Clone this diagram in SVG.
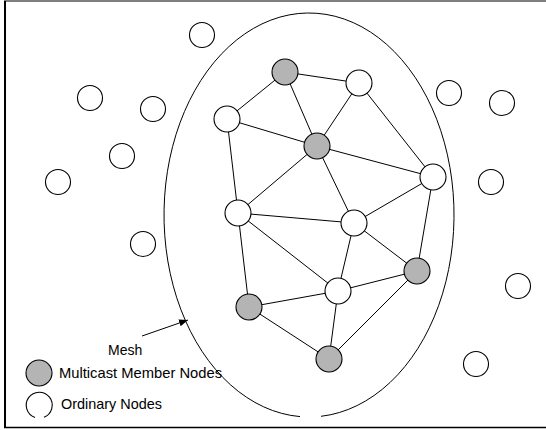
<svg xmlns="http://www.w3.org/2000/svg" width="546" height="430" viewBox="0 0 546 430">
<style>
.frame{stroke:#000;fill:none}
.mesh{fill:none;stroke:#000;stroke-width:1}
.e line{stroke:#000;stroke-width:1}
.w{fill:#fff;stroke:#000;stroke-width:1.1}
.g{fill:#b4b4b4;stroke:#000;stroke-width:1.1}
text{font-family:"Liberation Sans",Arial,sans-serif;font-size:14.5px;fill:#000}
</style>
<defs>
<marker id="ah" viewBox="0 0 10 10" refX="10" refY="5" markerWidth="9" markerHeight="9" markerUnits="userSpaceOnUse" orient="auto"><path d="M0,1 L10,5 L0,9 z" fill="#000"/></marker>
</defs>
<rect width="546" height="430" fill="#fff"/>
<g id="frame" class="frame">
<line x1="4" y1="1" x2="546" y2="1" stroke-width="1.2"/>
<line x1="5" y1="1" x2="5" y2="428" stroke-width="2"/>
<line x1="4" y1="427.5" x2="546" y2="427.5" stroke-width="1.5"/>
</g>
<g id="mesh-boundary"><path class="mesh" d="M321,416.3 A145,202 0 1 0 300,416.6"/></g>
<g id="connectors" class="e">
<line x1="285" y1="72" x2="359" y2="83"/>
<line x1="285" y1="72" x2="227" y2="119"/>
<line x1="285" y1="72" x2="317" y2="146"/>
<line x1="359" y1="83" x2="317" y2="146"/>
<line x1="359" y1="83" x2="433" y2="177"/>
<line x1="227" y1="119" x2="317" y2="146"/>
<line x1="227" y1="119" x2="238" y2="213"/>
<line x1="317" y1="146" x2="433" y2="177"/>
<line x1="317" y1="146" x2="238" y2="213"/>
<line x1="317" y1="146" x2="354" y2="223" stroke-width="0.6"/>
<line x1="238" y1="213" x2="354" y2="223"/>
<line x1="354" y1="223" x2="433" y2="177"/>
<line x1="433" y1="177" x2="417" y2="271"/>
<line x1="238" y1="213" x2="338" y2="291"/>
<line x1="238" y1="213" x2="249" y2="307"/>
<line x1="354" y1="223" x2="417" y2="271"/>
<line x1="354" y1="223" x2="338" y2="291"/>
<line x1="249" y1="307" x2="338" y2="291"/>
<line x1="249" y1="307" x2="329" y2="359"/>
<line x1="338" y1="291" x2="417" y2="271"/>
<line x1="338" y1="291" x2="329" y2="359"/>
<line x1="417" y1="271" x2="329" y2="359"/>
<line x1="142" y1="336" x2="188" y2="320" marker-end="url(#ah)"/>
</g>
<g id="m1"><circle class="g" cx="285" cy="72" r="13"/></g>
<g id="n2"><circle class="w" cx="359" cy="83" r="13"/></g>
<g id="n3"><circle class="w" cx="227" cy="119" r="13"/></g>
<g id="m4"><circle class="g" cx="317" cy="146" r="13"/></g>
<g id="n5"><circle class="w" cx="433" cy="177" r="13"/></g>
<g id="n6"><circle class="w" cx="238" cy="213" r="13"/></g>
<g id="n7"><circle class="w" cx="354" cy="223" r="13"/></g>
<g id="m8"><circle class="g" cx="249" cy="307" r="13"/></g>
<g id="m9"><circle class="g" cx="417" cy="271" r="13"/></g>
<g id="n10"><circle class="w" cx="338" cy="291" r="13"/></g>
<g id="m11"><circle class="g" cx="329" cy="359" r="13"/></g>
<g id="o1"><circle class="w" cx="202" cy="35" r="12.5"/></g>
<g id="o2"><circle class="w" cx="90" cy="98" r="12.5"/></g>
<g id="o3"><circle class="w" cx="153" cy="109" r="12.5"/></g>
<g id="o4"><circle class="w" cx="122" cy="156" r="12.5"/></g>
<g id="o5"><circle class="w" cx="58" cy="182" r="12.5"/></g>
<g id="o6"><circle class="w" cx="143" cy="244" r="12.5"/></g>
<g id="o7"><circle class="w" cx="449" cy="93" r="12.5"/></g>
<g id="o8"><circle class="w" cx="502" cy="103" r="12.5"/></g>
<g id="o9"><circle class="w" cx="491" cy="182" r="12.5"/></g>
<g id="o10"><circle class="w" cx="518" cy="286" r="12.5"/></g>
<g id="o11"><circle class="w" cx="476" cy="364" r="12.5"/></g>
<g id="label-mesh"><text x="108" y="355" style="font-size:14px">Mesh</text></g>
<g id="legend">
<circle class="g" cx="39" cy="373" r="13"/>
<text x="59" y="378" textLength="163" lengthAdjust="spacingAndGlyphs">Multicast Member Nodes</text>
<path d="M35,417.5 A13,13 0 1 1 44,417.3" fill="none" stroke="#000" stroke-width="1.1"/>
<text x="61" y="409" textLength="101" lengthAdjust="spacingAndGlyphs">Ordinary Nodes</text>
</g>
</svg>
